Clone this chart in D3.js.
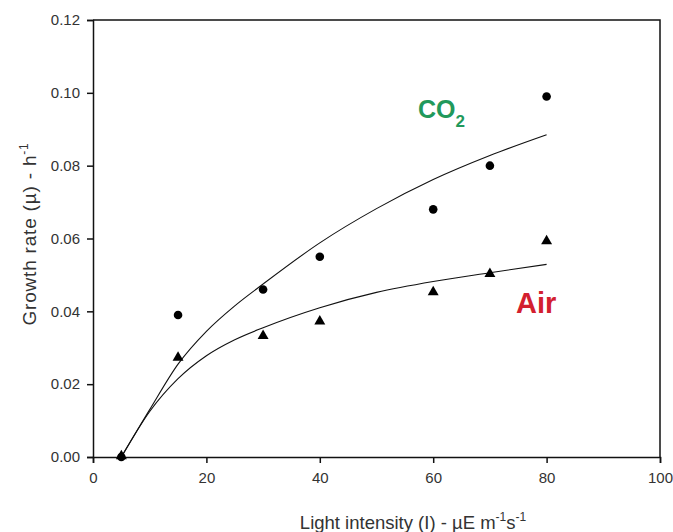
<!DOCTYPE html>
<html>
<head>
<meta charset="utf-8">
<script src="https://cdn.jsdelivr.net/npm/d3@7"></script>
<style>
  body { margin: 0; background: #fff; }
  text { font-family: "Liberation Sans", Arial, sans-serif; }
</style>
</head>
<body>
<svg id="chart" width="673" height="532"></svg>
<script>
"use strict";

//measured points
const lightI = [5, 15, 30, 40, 60, 70, 80];
const co2Rate = [0, 0.039, 0.046, 0.055, 0.068, 0.080, 0.099];
const airRate = [0, 0.027, 0.033, 0.037, 0.045, 0.050, 0.059];

//fitted curves
const fitI = [5, 10, 15, 20, 25, 30, 40, 50, 60, 70, 80];
const co2Fit = [0, 0.013, 0.0255, 0.0345, 0.0415, 0.0475, 0.0588, 0.0682, 0.0762, 0.0828, 0.0885];
const airFit = [0, 0.0125, 0.0215, 0.0278, 0.0322, 0.0355, 0.041, 0.0452, 0.0482, 0.0506, 0.0529];

//axis ticks
const xTicks = [0, 20, 40, 60, 80, 100];
const yTicks = [0, 0.02, 0.04, 0.06, 0.08, 0.10, 0.12];

const chartMargin = { left: 93, top: 20, right: 13, bottom: 75 };
const chartWidth = 673;
const chartHeight = 532;

const svg = d3.select('#chart');

const x = d3.scaleLinear().domain([0, 100]).range([chartMargin.left, chartWidth - chartMargin.right]);
const y = d3.scaleLinear().domain([0, 0.12]).range([chartHeight - chartMargin.bottom, chartMargin.top]);

//frame top + right
svg.append('path')
  .attr('d', 'M' + x(0) + ',' + y(0.12) + 'H' + x(100) + 'V' + y(0))
  .attr('fill', 'none').attr('stroke', '#111').attr('stroke-width', 1.5);

const axisBottom = d3.axisBottom(x).tickValues(xTicks).tickSize(6).tickPadding(9).tickFormat(d3.format('d'));
const gx = svg.append('g').attr('transform', 'translate(0,' + y(0) + ')').call(axisBottom);

const axisLeft = d3.axisLeft(y).tickValues(yTicks).tickSize(6).tickPadding(7).tickFormat(d3.format('.2f'));
const gy = svg.append('g').attr('transform', 'translate(' + x(0) + ',0)').call(axisLeft);

for (let g of [gx, gy]) {
  g.selectAll('path.domain').attr('stroke', '#111').attr('stroke-width', 1.5);
  g.selectAll('.tick line').attr('stroke', '#111').attr('stroke-width', 1.5);
  g.selectAll('.tick text')
    .attr('font-family', '"Liberation Sans", Arial, sans-serif')
    .attr('font-size', 15).attr('fill', '#333');
}

//fitted lines
const line = d3.line()
  .x(d => x(d[0]))
  .y(d => y(d[1]))
  .curve(d3.curveMonotoneX);

for (let fit of [co2Fit, airFit]) {
  svg.append('path')
    .datum(fitI.map((v, i) => [v, fit[i]]))
    .attr('d', line)
    .attr('fill', 'none')
    .attr('stroke', '#111')
    .attr('stroke-width', 1.1);
}

//markers
const circleSym = d3.symbol().type(d3.symbolCircle).size(58);
const triSym = d3.symbol().type(d3.symbolTriangle).size(52);

svg.selectAll('path.co2')
  .data(lightI.map((v, i) => [v, co2Rate[i]]))
  .enter().append('path')
  .attr('class', 'co2')
  .attr('d', circleSym)
  .attr('transform', d => 'translate(' + x(d[0]) + ',' + y(d[1]) + ')')
  .attr('fill', '#000');

svg.selectAll('path.air')
  .data(lightI.map((v, i) => [v, airRate[i]]))
  .enter().append('path')
  .attr('class', 'air')
  .attr('d', triSym)
  .attr('transform', d => 'translate(' + x(d[0]) + ',' + (y(d[1]) - 1) + ')')
  .attr('fill', '#000');

//series labels
const co2Label = svg.append('text')
  .attr('x', 418).attr('y', 118)
  .attr('font-family', 'Lato, "Open Sans", sans-serif')
  .attr('font-weight', 'bold').attr('font-size', 25)
  .attr('fill', '#21995b');
co2Label.append('tspan').text('CO');
co2Label.append('tspan').attr('dy', 9).attr('font-size', 17).text('2');

svg.append('text')
  .attr('x', 516).attr('y', 313)
  .attr('font-family', 'Lato, "Open Sans", sans-serif')
  .attr('font-weight', 'bold').attr('font-size', 29)
  .attr('fill', '#d3202f')
  .text('Air');

//axis titles
const xTitle = svg.append('text')
  .attr('x', 413).attr('y', 529)
  .attr('text-anchor', 'middle')
  .attr('font-size', 18.5).attr('fill', '#333');
xTitle.append('tspan').text('Light intensity (I) - µE m');
xTitle.append('tspan').attr('dy', -8).attr('font-size', 12).text('-1');
xTitle.append('tspan').attr('dy', 8).text('s');
xTitle.append('tspan').attr('dy', -8).attr('font-size', 12).text('-1');

const yTitle = svg.append('text')
  .attr('transform', 'translate(36,' + 234 + ') rotate(-90)')
  .attr('text-anchor', 'middle')
  .attr('font-size', 19).attr('letter-spacing', 0.8).attr('fill', '#333');
yTitle.append('tspan').text('Growth rate (µ) - h');
yTitle.append('tspan').attr('dy', -8).attr('font-size', 12).text('-1');
</script>
</body>
</html>
